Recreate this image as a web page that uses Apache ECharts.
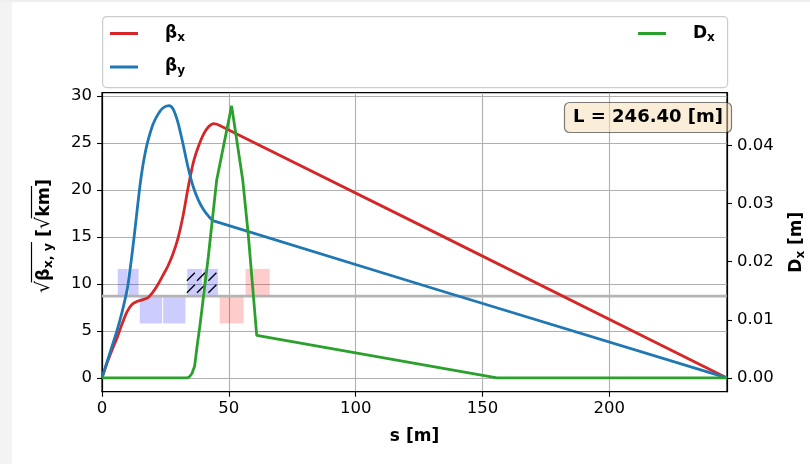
<!DOCTYPE html>
<html><head><meta charset="utf-8">
<script src="https://cdn.jsdelivr.net/npm/echarts@6/dist/echarts.min.js"></script>
<style>html,body{margin:0;padding:0;background:#fff;}#c{width:810px;height:464px;}</style>
</head><body><div id="c"></div>
<script>
// ---- data ----
const sBetaX = [0,2,4,6,8,10,12,14,16,18,20,22,24,26,28,30,32,34,36,38,40,42,44,46,246.4];
const betaX  = [0,1.6,3.0,4.3,5.8,7.1,7.85,8.15,8.3,8.5,9.1,9.9,10.9,11.9,13.2,14.9,17.3,20.3,22.9,24.6,25.9,26.7,27.05,26.9,0];
const sBetaY = [0,2,4,6,8,10,11,12,13,14,15,16,17,18,20,22,24,26.4,28,30,32,34,36,38,40,42,44,246.4];
const betaY  = [0,1.7,3.4,5.1,7.1,9.5,11.4,13.5,15.8,18.2,20.5,22.4,23.9,25.1,26.9,28.0,28.7,28.95,28.6,27.1,24.8,22.3,20.3,18.9,17.9,17.2,16.7,0];
const sDx = [0,33.5,34.5,35.5,36.5,37.5,38.7,41.9,45.2,51.1,55.5,57.7,61.0,155.7,246.4];
const dispX = [0,0,0.0002,0.0008,0.002,0.0055,0.0093,0.0208,0.034,0.0468,0.034,0.0245,0.0073,0,0];
const refLevel = 8.69;
const boxHeight = 2.9;
const boxStart = [6.0,10.3,14.7,23.9,33.4,39.7,46.2,56.4];
const boxEnd   = [10.3,14.6,23.9,33.1,39.7,45.9,56.0,66.3];
const boxSide  = [1,1,-1,-1,1,1,-1,1];
const boxKind  = ['quad','quad','quad','quad','quad','quad','bend','bend'];
const hatchStart = [33.4];
const hatchEnd = [45.9];
const xTicks = [0,50,100,150,200];
const yTicks = [0,5,10,15,20,25,30];
const dTicks = [0,0.01,0.02,0.03,0.04];
const sMax = 246.4;
const lengthText = 'L = 246.40 [m]';

// ---- chart ----
const FONT = 'DejaVu Sans';
const zip = (a, b) => a.map((v, i) => [v, b[i]]);
const boxData = boxStart.map((s, i) => {
  const lo = boxSide[i] > 0 ? refLevel : refLevel - boxHeight;
  return [s, boxEnd[i], lo, lo + boxHeight, boxKind[i] === 'bend' ? 1 : 0];
});
const hatchData = hatchStart.map((s, i) => [s, hatchEnd[i], refLevel, refLevel + boxHeight]);

const chart = echarts.init(document.getElementById('c'), null, {renderer: 'canvas'});

function renderBox(params, api) {
  const p0 = api.coord([api.value(0), api.value(3)]);
  const p1 = api.coord([api.value(1), api.value(2)]);
  return {
    type: 'rect',
    shape: {x: p0[0] + 0.5, y: p0[1], width: p1[0] - p0[0] - 1, height: p1[1] - p0[1]},
    style: {fill: api.value(4) === 1 ? 'rgba(255,0,0,0.2)' : 'rgba(0,0,255,0.2)'}
  };
}
function renderHatch(params, api) {
  const p0 = api.coord([api.value(0), api.value(3)]);
  const p1 = api.coord([api.value(1), api.value(2)]);
  const w = p1[0] - p0[0], h = p1[1] - p0[1];
  const children = [];
  [0.29, 0.73].forEach(fy => {
    [0.13, 0.45, 0.81].forEach(fx => {
      const cx = p0[0] + fx * w, cy = p0[1] + fy * h;
      children.push({type: 'line', shape: {x1: cx - 4, y1: cy + 4, x2: cx + 4, y2: cy - 4},
        style: {stroke: '#000', lineWidth: 1.4}});
    });
  });
  return {type: 'group', children};
}

// left axis title laid out as rotated text tokens with radical overlines
const mctx = document.createElement('canvas').getContext('2d');
function fontStr(size, weight) { return weight + ' ' + size + 'px "DejaVu Sans"'; }
function textW(t, size, weight) { mctx.font = fontStr(size, weight); return mctx.measureText(t).width; }
const nameTokens = [
  {t: '√', s: 19, w: 'normal', dy: 0},
  {t: 'β', s: 17.5, w: 'bold', dy: 0, over: 1},
  {t: 'x, y', s: 12.5, w: 'bold', dy: 4.5, over: 1},
  {t: ' [', s: 17.5, w: 'bold', dy: 0},
  {t: '√', s: 19, w: 'normal', dy: 0},
  {t: 'km', s: 17.5, w: 'bold', dy: 0, over: 2},
  {t: ']', s: 17.5, w: 'bold', dy: 0}
];
const nameChildren = [];
let totalW = 0;
nameTokens.forEach(k => { k.width = textW(k.t, k.s, k.w); totalW += k.width; });
let cur = -totalW / 2;
const overSpan = {};
nameTokens.forEach(k => {
  nameChildren.push({type: 'text', x: cur, y: k.dy,
    style: {text: k.t, font: fontStr(k.s, k.w), fill: '#000', align: 'left', verticalAlign: 'middle'}});
  if (k.over) {
    const o = overSpan[k.over] || (overSpan[k.over] = [cur, cur]);
    o[1] = cur + k.width;
  }
  cur += k.width;
});
Object.keys(overSpan).forEach(key => {
  const o = overSpan[key];
  nameChildren.push({type: 'line', shape: {x1: o[0] - 1.5, y1: -12.5, x2: o[1] + 1, y2: -12.5},
    style: {stroke: '#000', lineWidth: 1.2}});
});

const legendRich = {
  b: {fontFamily: FONT, fontSize: 17, fontWeight: 'bold', color: '#000', padding: [0,0,0,22]},
  s: {fontFamily: FONT, fontSize: 12, fontWeight: 'bold', color: '#000', padding: [8,0,0,0]}
};
const legendFmt = name => '{b|' + name.charAt(0) + '}{s|' + name.slice(1) + '}';

const option = {
  animation: false,
  backgroundColor: '#fff',
  textStyle: {fontFamily: FONT},
  title: {
    text: lengthText, left: 564, top: 102, padding: [5, 9],
    backgroundColor: 'rgba(245,222,179,0.5)', borderColor: 'rgba(0,0,0,0.5)', borderWidth: 1.2, borderRadius: 5,
    textStyle: {fontFamily: FONT, fontSize: 18, fontWeight: 'bold', color: '#000', lineHeight: 21}
  },
  graphic: [
    {type: 'rect', left: 0, top: 0, shape: {width: 12, height: 464}, style: {fill: '#f3f3f3'}, z: -10},
    {type: 'rect', left: 0, top: 0, shape: {width: 810, height: 2}, style: {fill: '#efefef'}, z: -10},
    {type: 'rect', left: 102, top: 16, shape: {width: 625, height: 71, r: 4},
      style: {fill: 'rgba(255,255,255,0.8)', stroke: '#cccccc', lineWidth: 1.2}, z: 0},
    {type: 'group', x: 44, y: 236, rotation: Math.PI / 2, children: nameChildren, z: 10}
  ],
  legend: [
    {data: [{name: 'βx', icon: 'rect'}, {name: 'βy', icon: 'rect'}], orient: 'vertical', left: 105, top: 20,
      itemWidth: 28, itemHeight: 3, itemGap: 15, selectedMode: false, formatter: legendFmt,
      textStyle: {rich: legendRich}},
    {data: [{name: 'Dx', icon: 'rect'}], orient: 'vertical', left: 633, top: 20,
      itemWidth: 28, itemHeight: 3, itemGap: 15, selectedMode: false, formatter: legendFmt,
      textStyle: {rich: legendRich}}
  ],
  grid: {left: 102, right: 83, top: 92.7, bottom: 72.3, show: true, borderColor: '#000', borderWidth: 1.2,
    backgroundColor: 'transparent', outerBoundsMode: 'none', containLabel: false},
  xAxis: {
    type: 'value', min: 0, max: sMax,
    name: 's [m]', nameLocation: 'middle', nameGap: 36,
    nameTextStyle: {fontFamily: FONT, fontSize: 17, fontWeight: 'bold', color: '#000'},
    axisLine: {show: true, onZero: false, lineStyle: {color: '#000', width: 1.2}},
    axisTick: {show: true, inside: false, length: 5, customValues: xTicks, lineStyle: {color: '#000', width: 1.1}},
    axisLabel: {customValues: xTicks, fontFamily: FONT, fontSize: 16.5, color: '#000', margin: 9},
    splitLine: {show: true, lineStyle: {color: '#b0b0b0', width: 1.1}}
  },
  yAxis: [
    {
      type: 'value', min: -1.47, max: 30.33, position: 'left',
      axisLine: {show: true, onZero: false, lineStyle: {color: '#000', width: 1.2}},
      axisTick: {show: true, inside: false, length: 5, customValues: yTicks, lineStyle: {color: '#000', width: 1.1}},
      axisLabel: {customValues: yTicks, fontFamily: FONT, fontSize: 16.5, color: '#000', margin: 10},
      splitLine: {show: true, lineStyle: {color: '#b0b0b0', width: 1.1}}
    },
    {
      type: 'value', min: -0.00237, max: 0.04907, position: 'right',
      name: '{b|D}{s|x}{b| [m]}', nameLocation: 'middle', nameGap: 60, nameRotate: 90,
      nameTextStyle: {rich: {
        b: {fontFamily: FONT, fontSize: 17, fontWeight: 'bold', color: '#000'},
        s: {fontFamily: FONT, fontSize: 12, fontWeight: 'bold', color: '#000', padding: [8,0,0,0]}
      }},
      axisLine: {show: true, onZero: false, lineStyle: {color: '#000', width: 1.2}},
      axisTick: {show: true, inside: false, length: 5, customValues: dTicks, lineStyle: {color: '#000', width: 1.1}},
      axisLabel: {customValues: dTicks, fontFamily: FONT, fontSize: 16.5, color: '#000', margin: 10,
        formatter: v => v.toFixed(2)},
      splitLine: {show: false}
    }
  ],
  series: [
    {type: 'custom', name: 'boxes', renderItem: renderBox, data: boxData, z: 2, silent: true,
      encode: {x: [0, 1], y: [2, 3]}},
    {type: 'custom', name: 'hatch', renderItem: renderHatch, data: hatchData, z: 3, silent: true,
      encode: {x: [0, 1], y: [2, 3]}},
    {type: 'line', name: 'ref', data: [[0, refLevel], [sMax, refLevel]], symbol: 'none', z: 3, silent: true,
      lineStyle: {color: '#b4b4b4', width: 2.8}},
    {type: 'line', name: 'βx', data: zip(sBetaX, betaX), symbol: 'none', smooth: 0.3, z: 4,
      color: '#d62728', lineStyle: {color: '#d62728', width: 2.8}},
    {type: 'line', name: 'βy', data: zip(sBetaY, betaY), symbol: 'none', smooth: 0.3, z: 5,
      color: '#1f77b4', lineStyle: {color: '#1f77b4', width: 2.8}},
    {type: 'line', name: 'Dx', yAxisIndex: 1, data: zip(sDx, dispX), symbol: 'none', z: 6,
      color: '#2ca02c', lineStyle: {color: '#2ca02c', width: 2.8}}
  ]
};
chart.setOption(option);
</script>
</body></html>
